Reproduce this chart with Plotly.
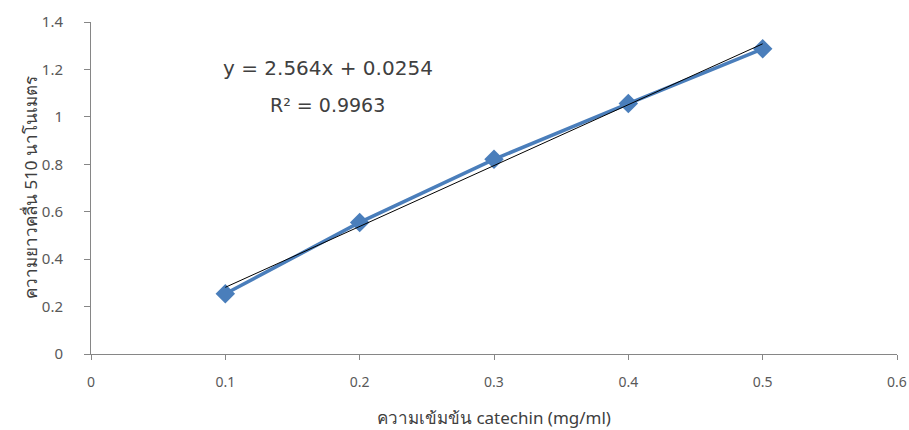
import numpy as np
import plotly.graph_objects as go

conc = [0.1, 0.2, 0.3, 0.4, 0.5]
absorb = [0.254, 0.555, 0.821, 1.056, 1.287]
x_ticks = [0, 0.1, 0.2, 0.3, 0.4, 0.5, 0.6]
y_ticks = [0, 0.2, 0.4, 0.6, 0.8, 1, 1.2, 1.4]
eq_text = "y = 2.564x + 0.0254"
r2_text = "R² = 0.9963"
x_title = "ความเข้มข้น catechin (mg/ml)"
y_title = "ความยาวคลื่น 510 นาโนเมตร"

slope, intercept = np.polyfit(conc, absorb, 1)
fit_x = [conc[0], conc[-1]]
fit_y = [slope * v + intercept for v in fit_x]

font_fam = "Noto Sans, DejaVu Sans, sans-serif"
ann_fam = "DejaVu Sans, sans-serif"
blue = "#4a7ebb"

fig = go.Figure()
fig.add_trace(go.Scatter(
    x=conc, y=absorb, mode="lines+markers",
    line=dict(color=blue, width=3.5),
    marker=dict(symbol="diamond", size=15, color=blue),
    showlegend=False, cliponaxis=False))
fig.add_trace(go.Scatter(
    x=fit_x, y=fit_y, mode="lines",
    line=dict(color="#000000", width=1),
    showlegend=False))

fig.add_annotation(x=0.1764, y=1.205, xref="x", yref="y", text=eq_text,
                   showarrow=False, font=dict(size=20, color="#404040", family=ann_fam))
fig.add_annotation(x=0.176, y=1.05, xref="x", yref="y", text=r2_text,
                   showarrow=False, font=dict(size=19, color="#404040", family=ann_fam))

axis_common = dict(showgrid=False, zeroline=False, showline=True, linecolor="#868686",
                   linewidth=1, ticks="outside", tickcolor="#868686",
                   automargin=False)

fig.update_xaxes(range=[0, 0.6], tickvals=x_ticks, ticktext=[str(v) for v in x_ticks],
                 ticklen=5, ticklabelstandoff=10,
                 tickfont=dict(size=14, color="#595959", family=font_fam),
                 title=dict(text=x_title, font=dict(size=17, color="#404040", family=font_fam), standoff=22),
                 **axis_common)
fig.update_yaxes(range=[0, 1.4], tickvals=y_ticks, ticktext=[str(v) for v in y_ticks],
                 ticklen=6, ticklabelstandoff=18,
                 tickfont=dict(size=15, color="#595959", family=font_fam),
                 title=dict(text=""),
                 **axis_common)

fig.add_annotation(xref="paper", yref="paper",
                   x=(30 - 91) / (909 - 91 - 12),
                   y=(354 - 188) / (354 - 22),
                   xanchor="center", yanchor="middle",
                   text=y_title, showarrow=False, textangle=-90,
                   font=dict(size=17, color="#404040", family=font_fam))

fig.update_layout(width=909, height=430, margin=dict(l=91, r=12, t=22, b=76),
                  plot_bgcolor="white", paper_bgcolor="white", font=dict(family=font_fam))

fig.write_html("out.html")
